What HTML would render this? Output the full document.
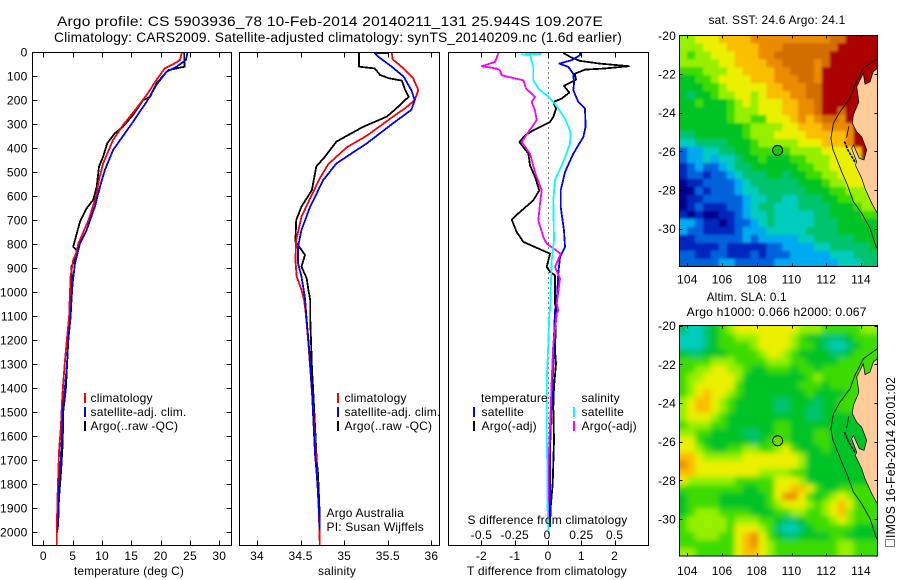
<!DOCTYPE html>
<html>
<head>
<meta charset="utf-8">
<title>Argo profile</title>
<style>
html,body{margin:0;padding:0;background:#fff;}
svg{display:block;}
text{font-family:"Liberation Sans",sans-serif;font-size:12px;fill:#000;letter-spacing:.2px;}
</style>
</head>
<body>
<svg id="fig" xmlns="http://www.w3.org/2000/svg" width="900" height="580" viewBox="0 0 900 580">
<defs>
<filter id="soft1" x="-5%" y="-5%" width="110%" height="110%"><feGaussianBlur stdDeviation="1.4"/></filter>
<filter id="soft2" x="-5%" y="-5%" width="110%" height="110%"><feGaussianBlur stdDeviation="3"/></filter>
<clipPath id="clipSst"><rect x="679.3" y="35.3" width="198" height="231.4"/></clipPath>
<clipPath id="clipSla"><rect x="679.3" y="325.7" width="198" height="230.3"/></clipPath>
</defs>
</svg>
<script>
// ---------- Chart data ----------
const depthTicks=[0,100,200,300,400,500,600,700,800,900,1000,1100,1200,1300,1400,1500,1600,1700,1800,1900,2000];
const tempTicks=[0,5,10,15,20,25,30];
const salTicks=[34,34.5,35,35.5,36];
const salTickLabels=["34","34.5","35","35.5","36"];
const tDiffTicks=[-2,-1,0,1,2];
const sDiffTicks=[-0.5,-0.25,0,0.25,0.5];
const sDiffTickLabels=["-0.5","-0.25","0","0.25","0.5"];
const lonTicks=[104,106,108,110,112,114];
const latTicks=[-20,-22,-24,-26,-28,-30];

const argoTempDepth=[0,60,67,74,129,185,199,261,310,337,379,435,476,560,615,650,706,782,810,824,865,893,976,1032,1103,1200,1400,1498,1630,1755,1852,1977,2000];
const argoTemp=[24.0,24.1,22.7,21.3,19.3,18.2,17.0,15.3,13.6,12.2,10.9,10.2,9.5,9.1,8.5,7.4,6.25,5.4,5.1,5.7,5.4,4.8,4.8,4.55,4.66,4.26,3.86,3.4,3.3,3.0,2.7,2.45,2.35];
const climTempDepth=[0,32,46,67,115,178,233,303,365,463,532,601,699,796,837,865,935,1032,1103,1200,1283,1380,1450,1561,1658,1866,2005,2054];
const climTemp=[23.6,23.3,22.4,20.7,19.3,17.6,15.9,13.6,11.9,10.2,9.5,9.0,7.7,6.0,5.6,5.1,4.66,4.5,4.4,4.0,3.7,3.4,3.2,3.0,2.7,2.4,2.3,2.3];
const satTempDepth=[0,32,60,81,136,206,289,407,490,560,643,740,796,879,962,1032,1103,1200,1310,1394,1477,1588,1685,1810,1921,1990];
const satTemp=[24.6,24.3,22.7,21.0,19.3,17.6,15.3,11.9,10.5,9.66,8.8,7.4,6.25,5.4,5.0,4.8,4.66,4.26,4.0,3.7,3.4,3.2,3.0,2.7,2.6,2.45];

const argoSalDepth=[0,60,67,94,108,118,157,185,233,268,310,372,435,476,574,643,699,789,803,844,893,942,990,1032,1103,1311,1450,1589,1700,1756,1936,1980];
const argoSal=[35.17,35.17,35.35,35.41,35.51,35.66,35.70,35.74,35.60,35.49,35.22,34.91,34.78,34.68,34.63,34.51,34.45,34.44,34.47,34.55,34.51,34.57,34.59,34.61,34.61,34.63,34.65,34.67,34.685,34.70,34.72,34.72];
const climSalDepth=[0,29,67,108,157,199,233,268,347,396,465,525,608,685,782,865,935,990,1032,1089,1214,1367,1519,1728,1922,2056];
const climSal=[35.545,35.556,35.68,35.79,35.85,35.81,35.70,35.56,35.26,35.03,34.82,34.72,34.61,34.51,34.45,34.44,34.455,34.51,34.54,34.56,34.59,34.62,34.65,34.685,34.71,34.72];
const satSalDepth=[3,4,18,60,101,157,199,240,296,379,463,532,643,740,810,879,935,1025,1117,1242,1408,1561,1672,1756,1867,1992];
const satSal=[35.5,35.35,35.39,35.545,35.68,35.77,35.81,35.77,35.56,35.26,34.91,34.76,34.61,34.51,34.47,34.47,34.51,34.55,34.57,34.60,34.63,34.65,34.665,34.685,34.705,34.72];

const argoTDiffDepth=[3,22,36,47,58,68,72,89,114,140,168,193,207,235,269,290,325,346,374,422,471,519,575,617,665,697,749,790,839,894,915,929,1047,1075,1103,1242,1297,1394,1478,1617,1797,1894,1978];
const argoTDiff=[.46,.71,.96,1.56,2.43,1.66,1.11,.81,.84,.48,.64,.41,.16,.24,.16,.06,-.44,-.69,-.86,-.59,-.54,-.39,-.26,-.44,-.84,-1.09,-.94,-.74,.06,-.04,.06,.21,.21,.26,.24,.21,.24,.18,.16,.18,.14,.08,.06];
const satTDiffDepth=[3,12,33,47,61,89,131,158,207,235,311,353,422,499,575,644,742,811,853,922,1047,1075,1186,1311,1450,1658,1866,1978];
const satTDiff=[.96,.96,.71,.34,.61,.76,.78,.76,.91,1.11,1.13,1.06,.76,.51,.38,.38,.48,.51,.36,.31,.26,.21,.18,.16,.11,.06,.06,.06];
const satSDiffDepth=[7,8,12,61,117,151,179,214,276,332,381,457,533,617,783,867,992,1075,1089,1214,1367,1589,1728,1866,1992];
const satSDiff=[-.047,-.198,-.135,-.11,-.11,-.072,-.01,.052,.128,.17,.165,.115,.052,.04,.045,.028,.02,.015,.01,.0025,-.01,-.01,-.005,-.005,.0025];
const argoSDiffDepth=[3,40,58,68,75,96,117,151,186,207,242,283,332,374,422,499,575,631,700,769,797,839,894,943,1047,1075,1089,1214,1367,1492,1631,1728,1990];
const argoSDiff=[-.3725,-.3975,-.4975,-.385,-.36,-.3475,-.185,-.165,-.0975,-.1225,-.0975,-.085,-.1475,-.1975,-.135,-.0975,-.0475,-.06,-.0725,-.035,-.01,.095,.0525,.09,.065,.0775,.065,.04,.0275,.02,.01,.0025,.0025];

// Heatmap values are colour classes 0-d (0 coldest/lowest, d hottest/highest)
const mapLevels=["#00008c","#0028be","#0064dc","#00aaf0","#00cdbe","#00c36e","#00c328","#3cdc00","#96f000","#ebf000","#fabe00","#eb8c00","#d26e00","#aa0000"];
const sstRows=[
"8899 9aaaabbbbbbbbbbccdddd","8889 99aaaabbbccccccc ddddd","87889 99aaabbcccccccddddddd","88888 99aaaabbccccbcdddddd","77788 899aaaabbcccbdddddd","66778 9999aaabbbccbdddddd","66677 89999 9aabbbccdddddd","65667 889989aaabbccdddddd","66766 678989 99aabbcdddddd","66666 6788899 9aabbcddcddd","66666 6788779 99abab ccbddd","66666 666788889 9aaabbbbddd","55666 666788899 99aaaaabddd","44555 566678888 899 9aaabddd","23344 556677777 888899 99addd","23343 445667666 7788899 98dd","12322 345566666 677889 999add","12212 234555665 667788 999add","01122 223455555 5666788 999a","00212 223445555 5566677 8889","01122 222344554 4555667 7888","01211 122345544 4555566 6788","10100 112344544 4445566 6677","33211 012234544 4445556 6666","32211 112333444 4455556 6666","11222 222323 333344555 55666","11111 211111223 333445555 56","22112 211121222 333334445 55","22222 332222233 333333444 55"
].map(r=>r.replace(/ /g,"").padEnd(25,r.replace(/ /g,"").slice(-1)));
const slaRows=[
"5445 67899 99999 988877777888","4445 67788 89999 87665556 77","4445 67777 89999 87765445 677","6556 66777 78998 76666556 77","7777 88877 77888 77666677 7","7788 99887 66777 67767777 7","7889 99986 66666 66787777","7899 99976 66666 67776777","789a 99876 66666 66766667 7","89aa 98766 66655 66656 67","89aa 98766 66655 66556 67","8999 87666 66666 66556 66","7888 77666 66677 66666 66","8877 66665 56677 66677 66","9976 66666 56777 66677 66","9987 66778 87789 76667 666","aa98 88889 99999 98666666 6","ba99 99999 99999 98666666 6","aa99 99999 98888 77666666 6","9888 88877 77799 98666666","7777 77776 67799 aa976677 7","6777 76666 667 9bb976 7898 7","6777 76666 667 8999 87 89a97","6788 87777 666 7788 778 9a87","7888 88788 877 6556 777 8987","7888 88799 987 5445 677 7776","7788 87 79ab97 6556 666 7766","7777 77 79ab98 7777 777 7887 7","8877 77 79aa98 7777 777 7887 7"
].map(r=>r.replace(/ /g,"").padEnd(25,r.replace(/ /g,"").slice(-1)));
const mapCols=25;

const landLon=[114.94,114.71,114.52,114.23,114.13,113.94,113.75,113.88,113.56,113.50,113.75,114.04,114.33,114.17,113.90,113.56,113.46,113.75,113.67,114.04,114.23,114.62,114.94,115.2,115.2];
const landLat=[-21.71,-21.88,-22.40,-22.53,-21.97,-22.31,-22.66,-23.44,-24.12,-24.55,-24.99,-25.25,-25.93,-26.45,-26.36,-25.67,-25.85,-26.54,-26.71,-27.40,-27.92,-28.69,-29.21,-29.21,-21.71];
const contourLon=[114.94,114.13,113.65,113.37,112.79,112.41,112.27,112.39,112.50,112.89,113.18,113.56,114.04,114.52,114.90];
const contourLat=[-21.19,-21.71,-22.57,-23.26,-23.95,-24.55,-25.33,-25.93,-26.16,-27.06,-27.66,-28.61,-29.21,-29.98,-31.02];
const islandLon=[113.05,113.25,113.45,113.65];
const islandLat=[-25.5,-25.95,-26.25,-26.55];
const isletLon=[113.3,113.17];
const isletLat=[-24.7,-25.3];
const floatLon=109.2;
const floatLat=-25.95;

// ---------- Scales ----------
const dy=d=>52.3+d*0.24;
const tx=v=>43.3+v*5.867;
const sx=v=>257+(v-34)*87.2;
const dtx=v=>548+v*33.3;
const dsx=v=>548+v*133.2;
const lonX=v=>687.3+(v-104)*17.37;
const latSst=v=>35.3+(-20-v)*19.33;
const latSla=v=>325.7+(-20-v)*19.33;

// ---------- Drawing helpers ----------
const NS="http://www.w3.org/2000/svg";
const root=document.getElementById('fig');
function mk(tag,attrs,parent){
  const el=document.createElementNS(NS,tag);
  for(const k in attrs)el.setAttribute(k,attrs[k]);
  (parent||root).appendChild(el);
  return el;
}
function named(el,name,active){
  
  
  return el;
}
function label(str,x,y,name,anchor,len,size){
  const a={x:x,y:y,'text-anchor':anchor||'start'};
  if(len){a.textLength=len;a.lengthAdjust='spacingAndGlyphs';}
  if(size)a.style='font-size:'+size+'px';
  const t=mk('text',a);
  t.textContent=str;
  return named(t,name);
}
function line(x1,y1,x2,y2,name,parent){
  const l=mk('line',{x1:x1,y1:y1,x2:x2,y2:y2,stroke:'#000','stroke-width':1,'shape-rendering':'crispEdges'},parent);
  return named(l,name);
}
function series(xs,ds,xf,color,name,w){
  const pts=xs.map((v,i)=>xf(v).toFixed(1)+','+dy(ds[i]).toFixed(1)).join(' ');
  const p=mk('polyline',{points:pts,fill:'none',stroke:color,'stroke-width':w||1.8,'stroke-linejoin':'round','shape-rendering':'crispEdges'});
  return named(p,name);
}
function frame(x,y,w,h,name){
  const r=mk('rect',{x:x,y:y,width:w,height:h,fill:'none',stroke:'#000','stroke-width':1,'shape-rendering':'crispEdges'});
  return named(r,name);
}
function legendBar(x,y,color,name){
  const r=mk('rect',{x:x,y:y-5,width:2,height:10,fill:color});
  return named(r,name);
}

// ---------- Titles ----------
label("Argo profile: CS 5903936_78 10-Feb-2014 20140211_131 25.944S 109.207E",57,26,"title-line-1","start",546,14);
label("Climatology: CARS2009. Satellite-adjusted climatology: synTS_20140209.nc (1.6d earlier)",54,42,"title-line-2","start",568,14);

// ---------- Profile panels ----------
const P={top:52.5,bot:545.5};
const panels=[{x:32.5,w:199},{x:239.5,w:200},{x:448.5,w:200}];

// depth axis
depthTicks.forEach(d=>{
  line(32.5,Math.round(dy(d))+.5,37.5,Math.round(dy(d))+.5,'depth-tick-left');
  line(226.5,Math.round(dy(d))+.5,231.5,Math.round(dy(d))+.5,'depth-tick-right');
  label(String(d),27.5,dy(d)+4,'depth-tick-label','end');
});

function xTicks(vals,labels,f,baseY,panelName){
  vals.forEach((v,i)=>{
    const x=Math.round(f(v))+.5;
    line(x,P.top,x,P.top+5,panelName+'-top-tick');
    line(x,P.bot-5,x,P.bot,panelName+'-bottom-tick');
    label(labels[i],f(v),baseY,panelName+'-tick-label','middle');
  });
}
xTicks(tempTicks,tempTicks.map(String),tx,560,'temperature');
xTicks(salTicks,salTickLabels,sx,560,'salinity');
xTicks(tDiffTicks,tDiffTicks.map(String),dtx,560,'t-difference');
sDiffTicks.forEach((v,i)=>{
  label(sDiffTickLabels[i],dsx(v)-(v===0?1:0),539,'s-difference-tick-label','middle');
});

// zero line
const zero=mk('line',{x1:548.5,y1:P.top,x2:548.5,y2:P.bot,stroke:'#000','stroke-width':1,'stroke-dasharray':'1 4'});
named(zero,'zero-difference-line');

// series
series(argoTemp,argoTempDepth,tx,'#000','temperature-argo-line');
series(climTemp,climTempDepth,tx,'#f00','temperature-climatology-line');
series(satTemp,satTempDepth,tx,'#00f','temperature-satellite-line');
series(argoSal,argoSalDepth,sx,'#000','salinity-argo-line');
series(climSal,climSalDepth,sx,'#f00','salinity-climatology-line');
series(satSal,satSalDepth,sx,'#00f','salinity-satellite-line');
series(argoTDiff,argoTDiffDepth,dtx,'#000','t-diff-argo-line');
series(satTDiff,satTDiffDepth,dtx,'#00f','t-diff-satellite-line');
series(argoSDiff,argoSDiffDepth,dsx,'#f0f','s-diff-argo-line');
series(satSDiff,satSDiffDepth,dsx,'#0ff','s-diff-satellite-line');

panels.forEach((p,i)=>frame(p.x,P.top,p.w,P.bot-P.top,['temperature-panel','salinity-panel','difference-panel'][i]));

// axis titles
label("temperature (deg C)",74,575,"temperature-axis-title","start",110);
label("salinity",318,575,"salinity-axis-title","start",38);
label("T difference from climatology",467,575,"t-difference-axis-title","start",160);
label("S difference from climatology",467.5,524,"s-difference-axis-title","start",160);

// legends
[[84,90.5,"temperature"],[337,344.5,"salinity"]].forEach(g=>{
  legendBar(g[0],398,'#f00',g[2]+'-legend-climatology-swatch');
  legendBar(g[0],412,'#00f',g[2]+'-legend-satellite-swatch');
  legendBar(g[0],426,'#000',g[2]+'-legend-argo-swatch');
  label("climatology",g[1],402,g[2]+"-legend-climatology");
  label("satellite-adj. clim.",g[1],416,g[2]+"-legend-satellite");
  label("Argo(..raw -QC)",g[1],430,g[2]+"-legend-argo");
});
label("temperature",481,402,"diff-legend-temperature-heading");
legendBar(473,412,'#00f','diff-legend-t-satellite-swatch');
legendBar(473,426,'#000','diff-legend-t-argo-swatch');
label("satellite",481.5,416,"diff-legend-t-satellite");
label("Argo(-adj)",481.5,430,"diff-legend-t-argo");
label("salinity",581.5,402,"diff-legend-salinity-heading");
legendBar(573,412,'#0ff','diff-legend-s-satellite-swatch');
legendBar(573,426,'#f0f','diff-legend-s-argo-swatch');
label("satellite",581.5,416,"diff-legend-s-satellite");
label("Argo(-adj)",581.5,430,"diff-legend-s-argo");
label("Argo Australia",326.5,517,"argo-australia-credit");
label("PI: Susan Wijffels",326.5,531,"principal-investigator-credit");

// ---------- Maps ----------
function heat(rows,x0,y0,w,h,clip,filter,name){
  const clipG=named(mk('g',{'clip-path':'url(#'+clip+')'}),name+'-clip-group');
  const g=named(mk('g',{filter:'url(#'+filter+')'},clipG),name);
  const cw=w/mapCols,ch=h/rows.length;
  rows.forEach((r,j)=>{
    for(let i=0;i<mapCols;i++){
      const lv=parseInt(r[i],16)||0;
      const ex=i===0?10:0, ey=j===0?10:0;
      const exR=i===mapCols-1?10:0, eyB=j===rows.length-1?10:0;
      const c=mk('rect',{x:x0+i*cw-ex,y:y0+j*ch-ey,width:cw+.4+ex+exR,height:ch+.4+ey+eyB,fill:mapLevels[lv]},g);
      named(c,name+'-cell');
    }
  });
  return clipG;
}
function polyPts(lons,lats,latF){
  return lons.map((v,i)=>lonX(v).toFixed(1)+','+latF(lats[i]).toFixed(1)).join(' ');
}
function drawMap(rows,latF,y0,h,clip,filter,prefix,markerColor){
  const g=heat(rows,679.3,y0,198,h,clip,filter,prefix+'-heatmap');
  named(mk('polygon',{points:polyPts(landLon,landLat,latF),fill:'#ffcc99',stroke:'#000','stroke-width':.7},g),prefix+'-land');
  named(mk('polyline',{points:polyPts(contourLon,contourLat,latF),fill:'none',stroke:'#000','stroke-width':.8},g),prefix+'-depth-contour');
  named(mk('polyline',{points:polyPts(islandLon,islandLat,latF),fill:'none',stroke:'#000','stroke-width':1.6,'stroke-dasharray':'3 1'},g),prefix+'-island');
  named(mk('polyline',{points:polyPts(isletLon,isletLat,latF),fill:'none',stroke:'#000','stroke-width':.8},g),prefix+'-islet');
  const m=mk('circle',{cx:lonX(floatLon),cy:latF(floatLat),r:5,fill:markerColor,stroke:'#000','stroke-width':1});
  named(m,prefix+'-float-position-marker');
  frame(679.5,y0,198,h,prefix+'-map-frame');
  lonTicks.forEach(v=>{
    const x=Math.round(lonX(v))+.5;
    line(x,y0,x,y0+3,prefix+'-lon-tick-top');
    line(x,y0+h-3,x,y0+h,prefix+'-lon-tick-bottom');
    label(String(v),lonX(v),y0+h+(prefix==='sst'?17:19),prefix+'-lon-tick-label','middle');
  });
  latTicks.forEach(v=>{
    const y=Math.round(latF(v))+.5;
    line(679.5,y,682.5,y,prefix+'-lat-tick-left');
    line(874.5,y,877.5,y,prefix+'-lat-tick-right');
    label(String(v),676,latF(v)+4.5,prefix+'-lat-tick-label','end');
  });
}
drawMap(sstRows,latSst,35.3,231.4,'clipSst','soft1','sst','#1ec800');
drawMap(slaRows,latSla,325.7,230.3,'clipSla','soft2','sla','#64dc00');

label("sat. SST: 24.6 Argo: 24.1",708.5,24,"sst-map-title","start",137);
label("Altim. SLA: 0.1",706.7,301,"sla-map-title-line-1","start",80);
label("Argo h1000: 0.066 h2000: 0.067",686.7,316,"sla-map-title-line-2","start",180);

// rotated timestamp
const stamp=mk('text',{x:0,y:0,transform:'translate(895,538) rotate(-90)',textLength:161,lengthAdjust:'spacingAndGlyphs',style:'font-size:13px'});
stamp.textContent="IMOS 16-Feb-2014 20:01:02";
named(stamp,'imos-timestamp');
const box=mk('rect',{x:885.5,y:539.5,width:9,height:7,fill:'none',stroke:'#000','stroke-width':1,'stroke-dasharray':'1 1'});
named(box,'copyright-placeholder-glyph');
</script>
</body>
</html>
